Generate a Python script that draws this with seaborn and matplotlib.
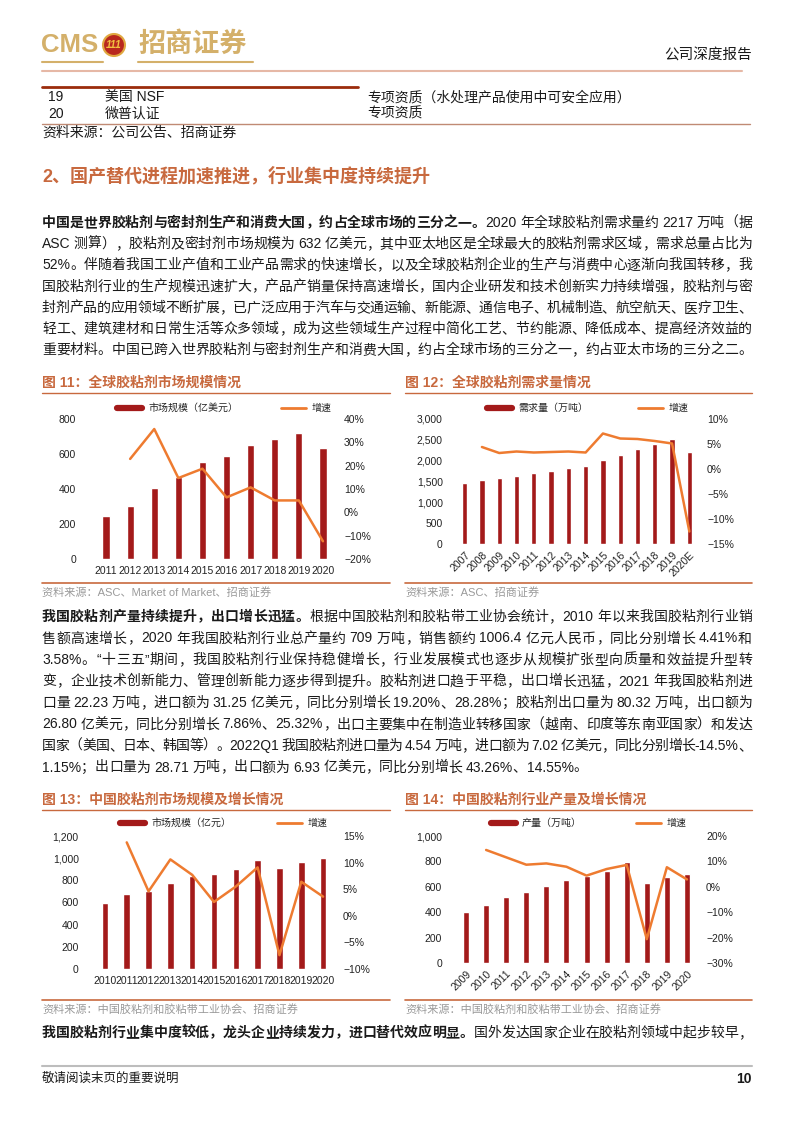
import re
import numpy as np
import pandas as pd
import seaborn as sns
import matplotlib.pyplot as plt
from matplotlib.lines import Line2D
from matplotlib.patches import Ellipse
from matplotlib.ticker import FuncFormatter

# ---- data ----
years11 = ['2011', '2012', '2013', '2014', '2015', '2016', '2017', '2018', '2019', '2020']
size11 = [244, 301, 408, 469, 556, 590, 651, 684, 718, 632]
growth11 = [np.nan, 22.9, 35.7, 14.7, 18.7, 6.4, 10.7, 5.1, 5.1, -12.4]

years12 = ['2007', '2008', '2009', '2010', '2011', '2012', '2013', '2014',
           '2015', '2016', '2017', '2018', '2019', '2020E']
demand12 = [1476, 1548, 1596, 1644, 1708, 1764, 1828, 1884, 2021, 2141, 2269, 2398, 2518, 2217]
growth12 = [np.nan, 4.4, 3.2, 3.5, 3.3, 3.4, 3.5, 3.3, 7.1, 6.1, 6.0, 5.6, 5.1, -12.5]

years13 = ['2010', '2011', '2012', '2013', '2014', '2015', '2016', '2017', '2018', '2019', '2020']
size13 = [594, 675, 702, 777, 837, 858, 903, 984, 912, 969, 1006]
growth13 = [np.nan, 13.8, 4.6, 10.6, 7.7, 2.6, 5.5, 9.1, -7.4, 6.4, 3.6]

years14 = ['2009', '2010', '2011', '2012', '2013', '2014', '2015', '2016', '2017', '2018', '2019', '2020']
output14 = [400, 458, 516, 558, 607, 654, 686, 728, 796, 626, 675, 700]
growth14 = [np.nan, 14.5, 11.6, 8.7, 9.2, 7.9, 4.4, 7.0, 8.6, -20.6, 7.7, 2.9]

W, H = 794, 1123
BAR = '#A31A1A'
LINE = '#EE7B30'
ACCENT = '#C8693E'
GREY = '#9A9A9A'
TXT = '#1A1A1A'

sns.set_style('white')
plt.rcParams['font.family'] = ['Liberation Sans', 'Noto Sans CJK SC', 'DejaVu Sans']
plt.rcParams['axes.unicode_minus'] = True

fig = plt.figure(figsize=(W / 100, H / 100), dpi=100)
renderer = fig.canvas.get_renderer()


def fy(y):
    return 1 - y / H


def hline(x0, x1, y, color, lw):
    fig.add_artist(Line2D([x0 / W, x1 / W], [fy(y), fy(y)], color=color, lw=lw,
                          transform=fig.transFigure))


def put(x, y, s, **kw):
    kw.setdefault('va', 'center')
    kw.setdefault('color', TXT)
    return fig.text(x / W, fy(y), s, **kw)


TOK = re.compile(r'[A-Za-z0-9.%\-+]+|\s+|.')


def text_line(y, parts, justify=True, x0=42, x1=752, size=10):
    items = []
    for s, bold in parts:
        for t in TOK.findall(s):
            items.append((t, bold))
    arts, widths = [], []
    for t, bold in items:
        if t.isspace():
            arts.append(None)
            widths.append(3.5)
            continue
        a = fig.text(0, fy(y + 5), t, fontsize=size, color=TXT, va='baseline', ha='left',
                     fontweight='bold' if bold else 'normal')
        widths.append(a.get_window_extent(renderer).width)
        arts.append(a)
    gap = (x1 - x0 - sum(widths)) / (len(items) - 1) if justify else 0
    x = x0
    for a, w in zip(arts, widths):
        if a is not None:
            a.set_x(x / W)
        x += w + gap


# ---- page header ----
put(41, 45, 'CMS', fontsize=18.5, fontweight='bold', color='#D4B06A')
fig.add_artist(Ellipse((114 / W, fy(45)), 22 / W, 22 / H, transform=fig.transFigure,
                       facecolor='#B8281E', edgecolor='#E0A840', lw=1.5))
put(114, 45, '111', fontsize=7.5, fontweight='bold', style='italic', color='#F2C040', ha='center')
put(138, 45, '招商证券', fontsize=19.5, fontweight='bold', color='#D4B06A')
hline(42, 103, 62, '#D4B06A', 1.5)
hline(138, 253, 62, '#D4B06A', 1.5)
put(752, 56, '公司深度报告', fontsize=10.5, ha='right')
hline(42, 742, 71, '#E6B8A6', 1.5)

# ---- table tail ----
hline(42, 358, 87, '#9B2C0C', 2)
put(48, 97, '19', fontsize=10)
put(105, 97, '美国 NSF', fontsize=10)
put(367, 97, '专项资质（水处理产品使用中可安全应用）', fontsize=10)
put(48, 114, '20', fontsize=10)
put(105, 114, '微普认证', fontsize=10)
put(367, 114, '专项资质', fontsize=10)
hline(42, 750, 124, '#C08A74', 1)
put(42, 133, '资料来源：公司公告、招商证券', fontsize=10)

put(42, 176, '2、国产替代进程加速推进，行业集中度持续提升', fontsize=13, fontweight='bold', color=ACCENT)

# ---- paragraph 1 ----
p1 = [
    [('中国是世界胶粘剂与密封剂生产和消费大国，约占全球市场的三分之一。', True), ('2020 年全球胶粘剂需求量约 2217 万吨（据', False)],
    [('ASC 测算），胶粘剂及密封剂市场规模为 632 亿美元，其中亚太地区是全球最大的胶粘剂需求区域，需求总量占比为', False)],
    [('52%。伴随着我国工业产值和工业产品需求的快速增长，以及全球胶粘剂企业的生产与消费中心逐渐向我国转移，我', False)],
    [('国胶粘剂行业的生产规模迅速扩大，产品产销量保持高速增长，国内企业研发和技术创新实力持续增强，胶粘剂与密', False)],
    [('封剂产品的应用领域不断扩展，已广泛应用于汽车与交通运输、新能源、通信电子、机械制造、航空航天、医疗卫生、', False)],
    [('轻工、建筑建材和日常生活等众多领域，成为这些领域生产过程中简化工艺、节约能源、降低成本、提高经济效益的', False)],
    [('重要材料。中国已跨入世界胶粘剂与密封剂生产和消费大国，约占全球市场的三分之一，约占亚太市场的三分之二。', False)],
]
for i, parts in enumerate(p1):
    text_line(222 + 21.2 * i, parts)

# ---- paragraph 2 ----
p2 = [
    [('我国胶粘剂产量持续提升，出口增长迅猛。', True), ('根据中国胶粘剂和胶粘带工业协会统计，2010 年以来我国胶粘剂行业销', False)],
    [('售额高速增长，2020 年我国胶粘剂行业总产量约 709 万吨，销售额约 1006.4 亿元人民币，同比分别增长 4.41%和', False)],
    [('3.58%。“十三五”期间，我国胶粘剂行业保持稳健增长，行业发展模式也逐步从规模扩张型向质量和效益提升型转', False)],
    [('变，企业技术创新能力、管理创新能力逐步得到提升。胶粘剂进口趋于平稳，出口增长迅猛，2021 年我国胶粘剂进', False)],
    [('口量 22.23 万吨，进口额为 31.25 亿美元，同比分别增长 19.20%、28.28%；胶粘剂出口量为 80.32 万吨，出口额为', False)],
    [('26.80 亿美元，同比分别增长 7.86%、25.32%，出口主要集中在制造业转移国家（越南、印度等东南亚国家）和发达', False)],
    [('国家（美国、日本、韩国等）。2022Q1 我国胶粘剂进口量为 4.54 万吨，进口额为 7.02 亿美元，同比分别增长-14.5%、', False)],
    [('1.15%；出口量为 28.71 万吨，出口额为 6.93 亿美元，同比分别增长 43.26%、14.55%。', False)],
]
for i, parts in enumerate(p2):
    text_line(616 + 21.5 * i, parts, justify=i < len(p2) - 1)

text_line(1032, [('我国胶粘剂行业集中度较低，龙头企业持续发力，进口替代效应明显。', True),
                 ('国外发达国家企业在胶粘剂领域中起步较早，', False)])

# ---- footer ----
hline(42, 752, 1066, '#BDBDBD', 1.5)
put(42, 1079, '敬请阅读末页的重要说明', fontsize=9)
put(752, 1079, '10', fontsize=10, fontweight='bold', ha='right')


# ---- charts ----
def chart(cfg, years, vals, growth, bar_label, source):
    x0, x1, ytop, ybot = cfg['ax']
    ax = fig.add_axes([x0 / W, fy(ybot), (x1 - x0) / W, (ybot - ytop) / H])
    df = pd.DataFrame({'year': years, 'val': vals, 'g': growth, 'pos': np.arange(len(years))})
    sns.barplot(data=df, x='year', y='val', color=BAR, saturation=1, width=0.3, ax=ax)
    ax2 = ax.twinx()
    sns.lineplot(data=df, x='pos', y='g', color=LINE, lw=1.8, ax=ax2)
    ax.set_xlim(-0.5, len(years) - 0.5)

    ymax, ystep = cfg['left']
    ax.set_ylim(0, ymax)
    ax.set_yticks(np.arange(0, ymax + 1, ystep))
    ax.yaxis.set_major_formatter(FuncFormatter(lambda v, p: f'{v:,.0f}'))
    gmin, gmax, gstep = cfg['right']
    ax2.set_ylim(gmin, gmax)
    ax2.set_yticks(np.arange(gmin, gmax + 1, gstep))
    ax2.yaxis.set_major_formatter(FuncFormatter(lambda v, p: f'{v:.0f}%'.replace('-', '\u2212')))

    for a in (ax, ax2):
        a.set_xlabel('')
        a.set_ylabel('')
        a.grid(False)
        for sp in a.spines.values():
            sp.set_visible(False)
    ax.tick_params(axis='y', length=0, pad=cfg['lpad'], labelsize=7.5, labelcolor='#222')
    ax2.tick_params(axis='y', length=0, pad=6.5, labelsize=7.5, labelcolor='#222')
    ax.tick_params(axis='x', length=0, pad=cfg['xpad'], labelsize=7.5, labelcolor='#222')
    if cfg['rotate']:
        plt.setp(ax.get_xticklabels(), rotation=45, ha='right', rotation_mode='anchor')

    handles = [Line2D([], [], color=BAR, lw=4.5), Line2D([], [], color=LINE, lw=2)]
    lx, ly = cfg['legend']
    ax2.legend(handles, [bar_label, '增速'], loc='center left',
               bbox_to_anchor=(lx / W, fy(ly)), bbox_transform=fig.transFigure,
               ncol=2, frameon=False, fontsize=7.2, handlelength=2.5, handletextpad=0.6,
               columnspacing=cfg['cs'], borderpad=0, borderaxespad=0)

    tx0, tx1, ty = cfg['title']
    put(tx0, ty, cfg['name'], fontsize=10, fontweight='bold', color=ACCENT)
    hline(tx0, tx1, ty + 10, ACCENT, 1)
    hline(tx0, tx1, cfg['bottom'], ACCENT, 1.2)
    put(tx0, cfg['bottom'] + 9, source, fontsize=8, color=GREY)


cfg11 = dict(ax=(94, 335, 419, 559), left=(800, 200), right=(-20, 40, 10), lpad=13, xpad=5,
             rotate=False, legend=(117, 408), cs=4.3, title=(42, 390, 383), bottom=583,
             name='图 11：全球胶粘剂市场规模情况')
cfg12 = dict(ax=(456, 698, 419, 544), left=(3000, 500), right=(-15, 10, 5), lpad=9.5, xpad=4,
             rotate=True, legend=(487, 408), cs=5.0, title=(405, 752, 383), bottom=583,
             name='图 12：全球胶粘剂需求量情况')
cfg13 = dict(ax=(94, 334, 836, 969), left=(1200, 200), right=(-10, 15, 5), lpad=11, xpad=5,
             rotate=False, legend=(120, 823), cs=4.6, title=(42, 390, 800), bottom=1000,
             name='图 13：中国胶粘剂市场规模及增长情况')
cfg14 = dict(ax=(456, 697, 836, 963), left=(1000, 200), right=(-30, 20, 10), lpad=10, xpad=4,
             rotate=True, legend=(491, 823), cs=5.4, title=(405, 752, 800), bottom=1000,
             name='图 14：中国胶粘剂行业产量及增长情况')

chart(cfg11, years11, size11, growth11, '市场规模（亿美元）', '资料来源：ASC、Market of Market、招商证券')
chart(cfg12, years12, demand12, growth12, '需求量（万吨）', '资料来源：ASC、招商证券')
chart(cfg13, years13, size13, growth13, '市场规模（亿元）', '资料来源：中国胶粘剂和胶粘带工业协会、招商证券')
chart(cfg14, years14, output14, growth14, '产量（万吨）', '资料来源：中国胶粘剂和胶粘带工业协会、招商证券')

fig.savefig('out.png', dpi=100, facecolor='white')
